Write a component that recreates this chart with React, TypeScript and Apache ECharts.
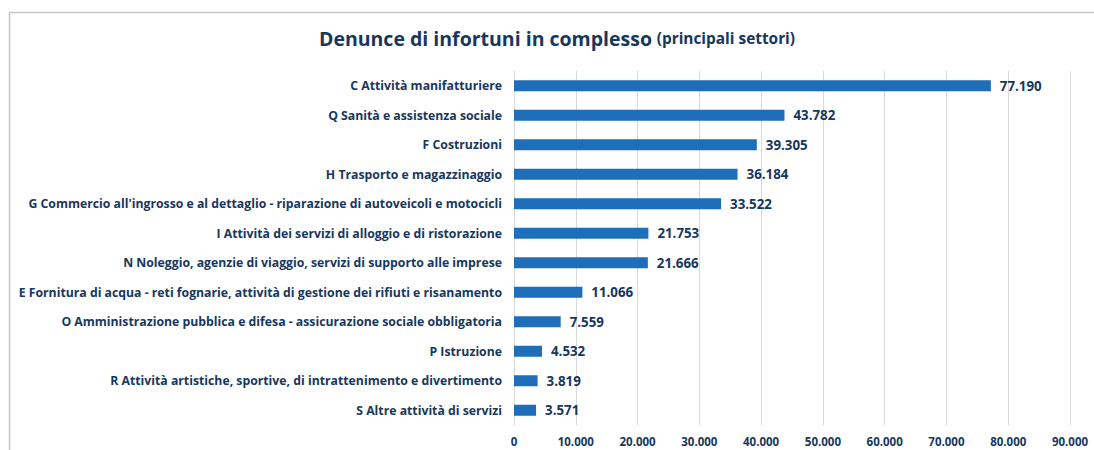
import React, { useEffect, useRef } from "react";
import * as echarts from "echarts";

const categories = [
  "C Attività manifatturiere",
  "Q Sanità e assistenza sociale",
  "F Costruzioni",
  "H Trasporto e magazzinaggio",
  "G Commercio all'ingrosso e al dettaglio - riparazione di autoveicoli e motocicli",
  "I Attività dei servizi di alloggio e di ristorazione",
  "N Noleggio, agenzie di viaggio, servizi di supporto alle imprese",
  "E Fornitura di acqua - reti fognarie, attività di gestione dei rifiuti e risanamento",
  "O Amministrazione pubblica e difesa - assicurazione sociale obbligatoria",
  "P Istruzione",
  "R Attività artistiche, sportive, di intrattenimento e divertimento",
  "S Altre attività di servizi",
];
const values = [77190, 43782, 39305, 36184, 33522, 21753, 21666, 11066, 7559, 4532, 3819, 3571];
const axisMin = 0;
const axisMax = 90000;
const axisInterval = 10000;

const fmt = (v: number) => String(Math.round(v)).replace(/\B(?=(\d{3})+(?!\d))/g, ".");

const NAVY = "#17375E";
const FONT = "Open Sans";

export default function App() {
  const ref = useRef<HTMLDivElement>(null);
  useEffect(() => {
    document.body.style.margin = "0";
    const chart = echarts.init(ref.current!, undefined, { renderer: "svg" });
    chart.setOption({
      animation: false,
      backgroundColor: "#ffffff",
      textStyle: { fontFamily: FONT },
      title: {
        text: "{a|Denunce di infortuni in complesso} {b|(principali settori)}",
        left: 552,
        textAlign: "center",
        top: 23,
        textStyle: {
          rich: {
            a: { fontSize: 19.5, fontWeight: "bold", color: NAVY, fontFamily: FONT },
            b: { fontSize: 15.4, fontWeight: "bold", color: NAVY, fontFamily: FONT },
          },
        },
      },
      graphic: [
        { type: "line", shape: { x1: 9, y1: 12.5, x2: 1094, y2: 12.5 }, style: { stroke: "#c8c8c8", lineWidth: 1.5 } },
        { type: "line", shape: { x1: 9.5, y1: 12, x2: 9.5, y2: 450 }, style: { stroke: "#c8c8c8", lineWidth: 1.5 } },
      ],
      grid: { left: 514, right: 24, top: 71, bottom: 25, containLabel: false },
      xAxis: {
        type: "value",
        min: axisMin,
        max: axisMax,
        interval: axisInterval,
        axisLine: { show: false },
        axisTick: { show: false },
        splitLine: { show: true, lineStyle: { color: "#d9d9d9", width: 1 } },
        axisLabel: {
          formatter: (v: number) => fmt(v),
          color: NAVY,
          fontWeight: "bold",
          fontSize: 11.5,
          fontFamily: FONT,
          margin: 10,
        },
      },
      yAxis: {
        type: "category",
        data: categories,
        inverse: true,
        axisLine: { show: false },
        axisTick: { show: false },
        splitLine: { show: false },
        axisLabel: {
          color: NAVY,
          fontWeight: "bold",
          fontSize: 12.25,
          fontFamily: FONT,
          margin: 12,
        },
      },
      series: [
        {
          type: "bar",
          data: values,
          barWidth: 11,
          itemStyle: { color: "#1F6EB9" },
          label: {
            show: true,
            position: "right",
            distance: 9,
            formatter: (p: any) => fmt(p.value),
            color: NAVY,
            fontWeight: "bold",
            fontSize: 13.3,
            fontFamily: FONT,
          },
        },
      ],
    });
    return () => chart.dispose();
  }, []);
  return <div ref={ref} style={{ width: 1094, height: 450, position: "absolute", left: 0, top: 0 }} />;
}
